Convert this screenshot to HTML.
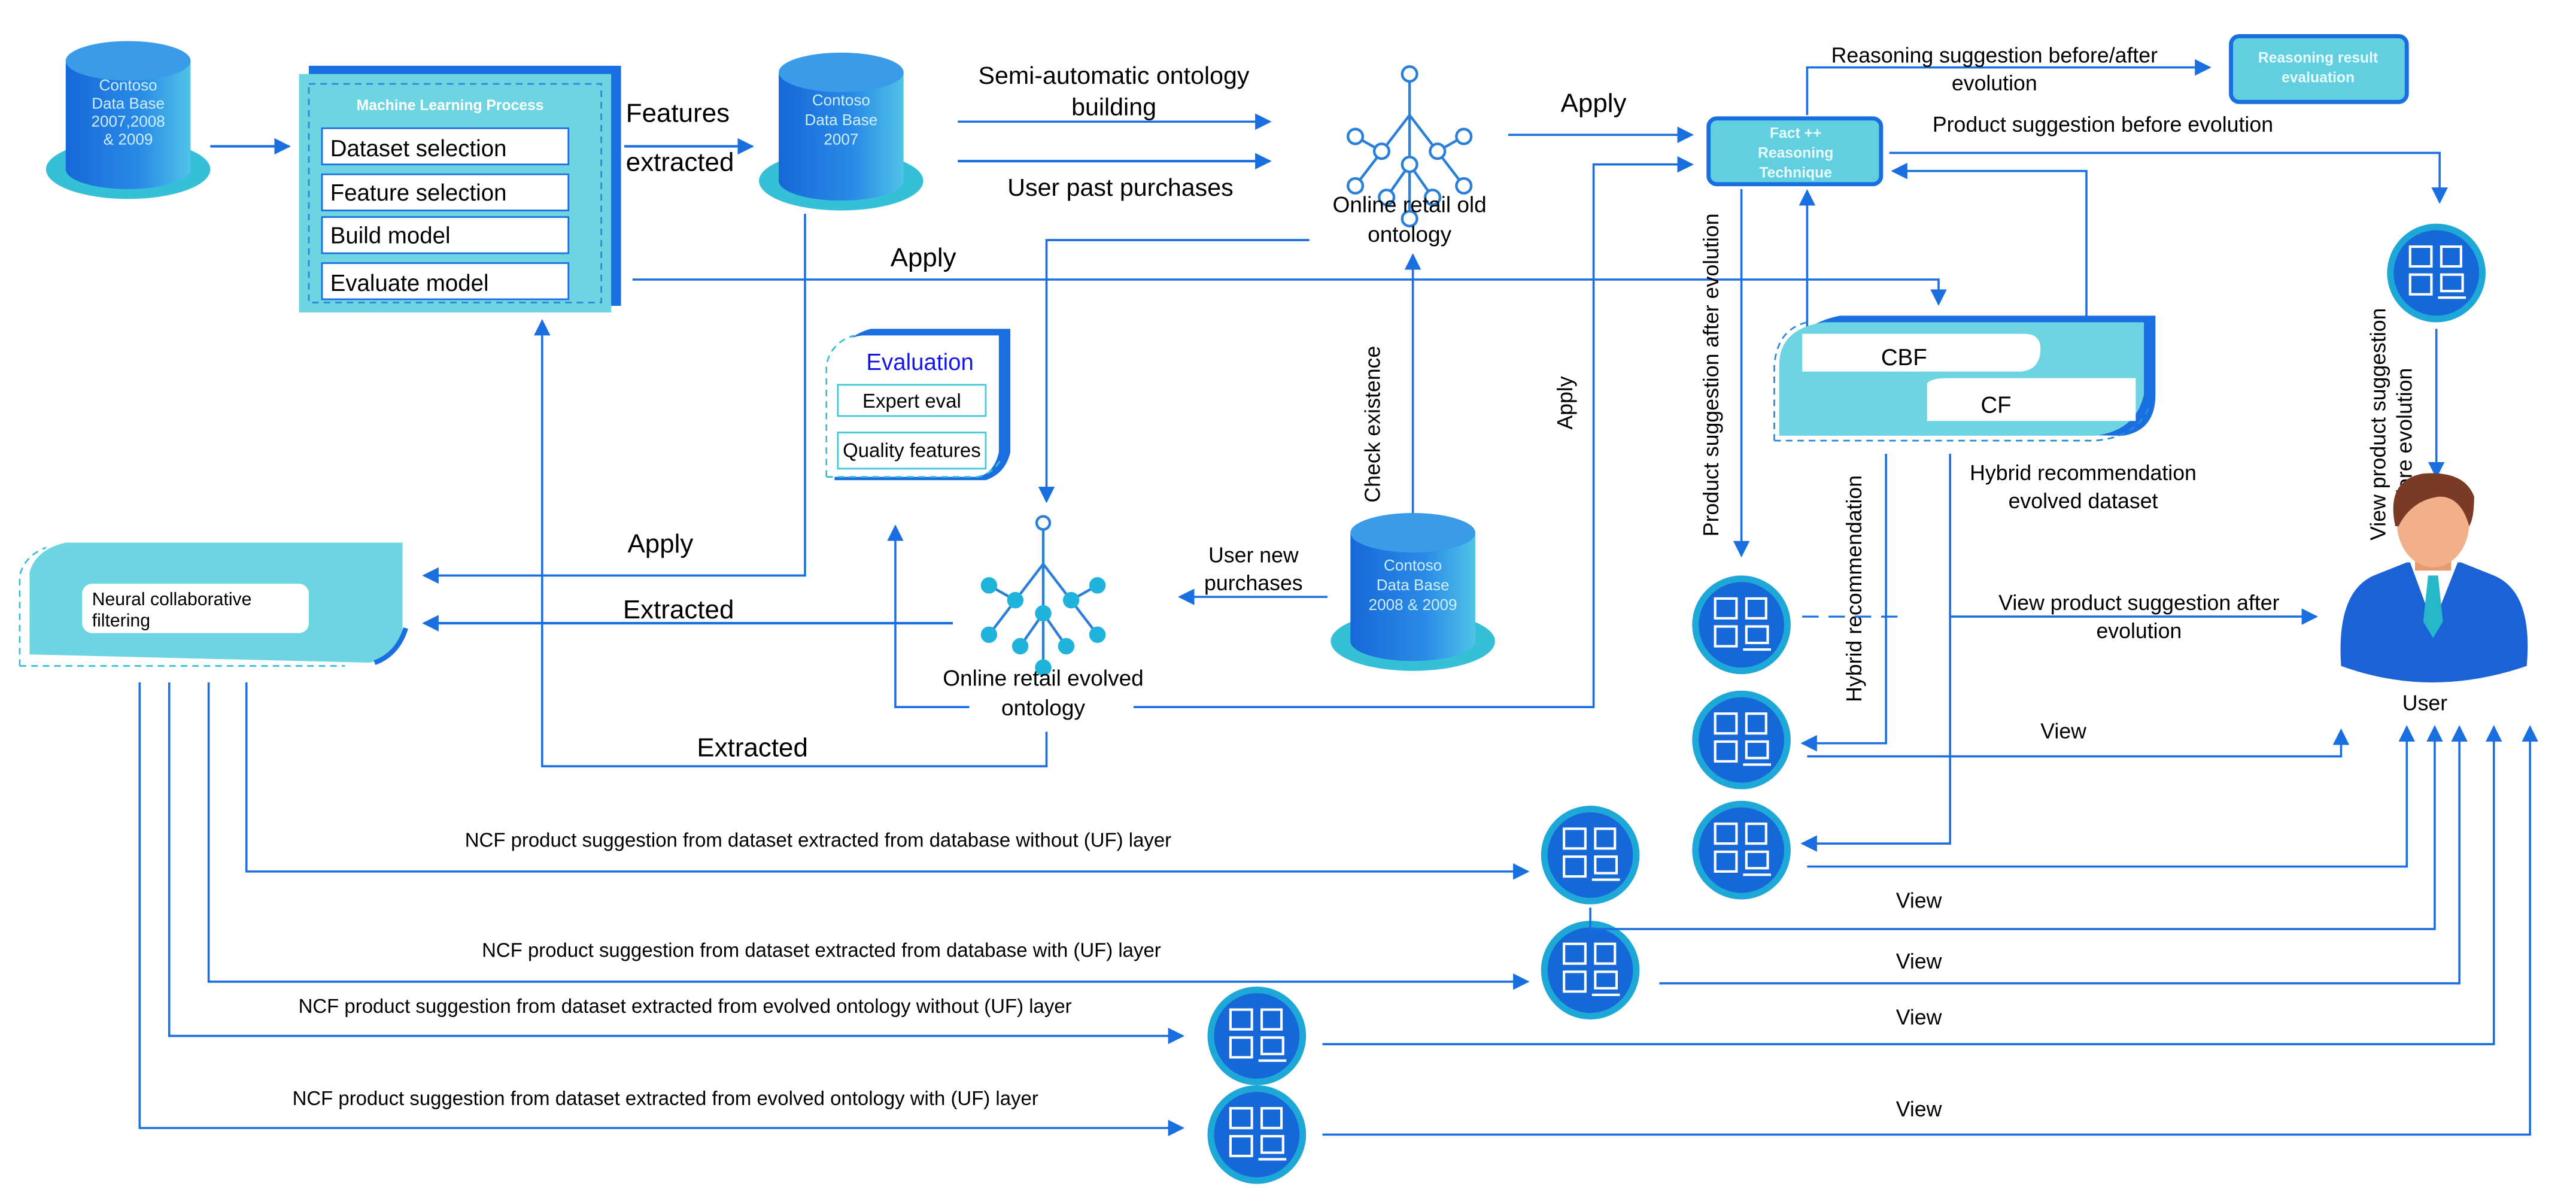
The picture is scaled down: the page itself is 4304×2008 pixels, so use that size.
<!DOCTYPE html>
<html><head><meta charset="utf-8"><style>
html,body{margin:0;padding:0;background:#fff}
svg{display:block}
text{font-family:"Liberation Sans Narrow","Liberation Sans",Arial,sans-serif;fill:#000}
.n{font-family:"Liberation Sans",Arial,sans-serif}
</style></head><body>
<svg width="4304" height="2008" viewBox="0 0 1568 731" preserveAspectRatio="none" xmlns="http://www.w3.org/2000/svg">
<defs>
<marker id="a" viewBox="0 0 10 10" refX="9" refY="5" markerWidth="10" markerHeight="10" markerUnits="userSpaceOnUse" orient="auto"><path d="M0,0L10,5L0,10z" fill="#1a6fe0"/></marker>
<linearGradient id="cyl" x1="0" x2="1"><stop offset="0" stop-color="#1668d8"/><stop offset="0.6" stop-color="#2a8be6"/><stop offset="1" stop-color="#4fc3e8"/></linearGradient>
<g id="ont-old" fill="#fff" stroke="#2a7fd8" stroke-width="1.6">
<path d="M0,0V88M0,25L-33,68M0,25L33,68M-17,47L-33,38M17,47L33,38M0,55L-14,75M0,55L14,75" fill="none"/>
<circle cx="0" cy="0" r="4.5"/><circle cx="-17" cy="47" r="4.5"/><circle cx="17" cy="47" r="4.5"/><circle cx="-33" cy="38" r="4.5"/><circle cx="33" cy="38" r="4.5"/><circle cx="-33" cy="68" r="4.5"/><circle cx="33" cy="68" r="4.5"/><circle cx="0" cy="55" r="4.5"/><circle cx="-14" cy="75" r="4.5"/><circle cx="14" cy="75" r="4.5"/><circle cx="0" cy="88" r="4.5"/>
</g>
<g id="ont-new" fill="#20b4dc" stroke="#2a7fd8" stroke-width="1.6">
<path d="M0,0V88M0,25L-33,68M0,25L33,68M-17,47L-33,38M17,47L33,38M0,55L-14,75M0,55L14,75" fill="none"/>
<circle cx="0" cy="0" r="4" fill="#fff"/><circle cx="-17" cy="47" r="5" stroke="none"/><circle cx="17" cy="47" r="5" stroke="none"/><circle cx="-33" cy="38" r="5" stroke="none"/><circle cx="33" cy="38" r="5" stroke="none"/><circle cx="-33" cy="68" r="5" stroke="none"/><circle cx="33" cy="68" r="5" stroke="none"/><circle cx="0" cy="55" r="5" stroke="none"/><circle cx="-14" cy="75" r="5" stroke="none"/><circle cx="14" cy="75" r="5" stroke="none"/><circle cx="0" cy="88" r="5" stroke="none"/>
</g>
<g id="dev">
<circle r="30" fill="#1ea8d8"/><circle r="26" fill="#1668d8"/>
<g fill="none" stroke="#fff" stroke-width="1.5">
<rect x="-16" y="-16" width="13" height="12"/><rect x="3" y="-16" width="12" height="12"/><rect x="-16" y="1" width="13" height="12"/><rect x="3" y="1" width="13" height="10"/><path d="M1,15H18"/>
</g>
</g>
<g id="cyl3">
<ellipse cx="0" cy="38" rx="50" ry="18" fill="#36c0d8"/>
<path d="M-38,-28V38A38,12 0 0 0 38,38V-28z" fill="url(#cyl)"/>
<ellipse cx="0" cy="-28" rx="38" ry="12" fill="#3a9be8"/>
</g>
</defs>

<!-- DB1 -->
<use href="#cyl3" x="78" y="65"/>
<text x="78" y="55" font-size="9.5" text-anchor="middle" style="fill:#cfeefa">Contoso</text>
<text x="78" y="66" font-size="9.5" text-anchor="middle" style="fill:#cfeefa">Data Base</text>
<text x="78" y="77" font-size="9.5" text-anchor="middle" style="fill:#cfeefa">2007,2008</text>
<text x="78" y="88" font-size="9.5" text-anchor="middle" style="fill:#cfeefa">&amp; 2009</text>
<line x1="128" y1="89" x2="176" y2="89" stroke="#1a6fe0" stroke-width="1.5" marker-end="url(#a)"/>

<!-- ML box -->
<rect x="188" y="40" width="190" height="146" fill="#1a6fe0"/>
<rect x="182" y="45" width="190" height="145" fill="#6dd4e2"/>
<rect x="188" y="51" width="178" height="133" fill="none" stroke="#2a8ad8" stroke-dasharray="4,3"/>
<text x="274" y="67" font-size="9" text-anchor="middle" font-weight="bold" style="fill:#fff">Machine Learning Process</text>
<g stroke="#1a6fe0" stroke-width="1" fill="#fff">
<rect x="196" y="78" width="150" height="22"/><rect x="196" y="106" width="150" height="22"/><rect x="196" y="132" width="150" height="22"/><rect x="196" y="160" width="150" height="22"/></g>
<g font-size="14"><text x="201" y="95">Dataset selection</text><text x="201" y="122">Feature selection</text><text x="201" y="148">Build model</text><text x="201" y="177">Evaluate model</text></g>

<text x="381" y="74" font-size="16">Features</text>
<text x="381" y="104" font-size="16">extracted</text>
<line x1="380" y1="89" x2="458" y2="89" stroke="#1a6fe0" stroke-width="1.5" marker-end="url(#a)"/>

<!-- DB2 -->
<use href="#cyl3" x="512" y="72"/>
<text x="512" y="64" font-size="9.5" text-anchor="middle" style="fill:#cfeefa">Contoso</text>
<text x="512" y="76" font-size="9.5" text-anchor="middle" style="fill:#cfeefa">Data Base</text>
<text x="512" y="88" font-size="9.5" text-anchor="middle" style="fill:#cfeefa">2007</text>

<text x="678" y="51" font-size="15" text-anchor="middle">Semi-automatic ontology</text>
<text x="678" y="70" font-size="15" text-anchor="middle">building</text>
<line x1="583" y1="74" x2="773" y2="74" stroke="#1a6fe0" stroke-width="1.3" marker-end="url(#a)"/>
<line x1="583" y1="98" x2="773" y2="98" stroke="#1a6fe0" stroke-width="1.5" marker-end="url(#a)"/>
<text x="682" y="119" font-size="15" text-anchor="middle">User past purchases</text>

<use href="#ont-old" x="858" y="45"/>
<text x="858" y="129" font-size="13.5" text-anchor="middle">Online retail old</text>
<text x="858" y="147" font-size="13.5" text-anchor="middle">ontology</text>

<text x="970" y="68" font-size="16" text-anchor="middle">Apply</text>
<line x1="918" y1="82" x2="1030" y2="82" stroke="#1a6fe0" stroke-width="1.3" marker-end="url(#a)"/>

<!-- Fact++ -->
<rect x="1040" y="72" width="105" height="40" rx="5" fill="#62cfe0" stroke="#1a6fe0" stroke-width="2.5"/>
<g font-size="9" font-weight="bold" text-anchor="middle" class="n"><text x="1093" y="84" style="fill:#e8fbff">Fact ++</text><text x="1093" y="96" style="fill:#e8fbff">Reasoning</text><text x="1093" y="108" style="fill:#e8fbff">Technique</text></g>

<polyline points="1100,70 1100,41 1345,41" fill="none" stroke="#1a6fe0" stroke-width="1.3" marker-end="url(#a)"/>
<text x="1214" y="38" font-size="13" text-anchor="middle">Reasoning suggestion before/after</text>
<text x="1214" y="55" font-size="13" text-anchor="middle">evolution</text>
<rect x="1358" y="22" width="107" height="40" rx="5" fill="#62cfe0" stroke="#1a6fe0" stroke-width="2.5"/>
<text x="1411" y="38" font-size="9" font-weight="bold" text-anchor="middle" class="n" style="fill:#e8fbff">Reasoning result</text>
<text x="1411" y="50" font-size="9" font-weight="bold" text-anchor="middle" class="n" style="fill:#e8fbff">evaluation</text>

<text x="1280" y="80" font-size="13" text-anchor="middle">Product suggestion before evolution</text>
<polyline points="1150,93 1485,93 1485,123" fill="none" stroke="#1a6fe0" stroke-width="1.3" marker-end="url(#a)"/>
<polyline points="1270,202 1270,104 1152,104" fill="none" stroke="#1a6fe0" stroke-width="1.3" marker-end="url(#a)"/>
<polyline points="1110,222 1100,222 1100,116" fill="none" stroke="#1a6fe0" stroke-width="1.3" marker-end="url(#a)"/>

<use href="#dev" x="1483" y="166"/>
<line x1="1483" y1="200" x2="1483" y2="290" stroke="#1a6fe0" stroke-width="1.3" marker-end="url(#a)"/>
<text transform="translate(1452,258) rotate(-90)" font-size="13" text-anchor="middle" class="n">View product suggestion</text>
<text transform="translate(1468,270) rotate(-90)" font-size="13" text-anchor="middle" class="n">before evolution</text>

<!-- User -->
<path d="M1425,405 Q1422,360 1445,350 L1465,342 L1498,342 L1518,350 Q1542,360 1538,405 Q1480,425 1425,405z" fill="#1a62d6"/>
<path d="M1467,342 L1481,380 L1496,342z" fill="#fff"/>
<path d="M1478,350 L1484,350 L1487,378 L1481,388 L1475,378z" fill="#26b8c8"/>
<rect x="1470" y="325" width="22" height="22" fill="#e59a70"/>
<ellipse cx="1481" cy="318" rx="22" ry="27" fill="#f1b08a"/>
<path d="M1458,320 Q1452,292 1475,288 Q1500,286 1506,302 Q1506,315 1503,320 Q1498,302 1485,302 Q1468,304 1460,320z" fill="#7a3a26"/>
<text x="1476" y="432" font-size="13" text-anchor="middle">User</text>

<!-- Apply long -->
<polyline points="385,170 1180,170 1180,185" fill="none" stroke="#1a6fe0" stroke-width="1.3" marker-end="url(#a)"/>
<text x="562" y="162" font-size="16" text-anchor="middle">Apply</text>

<!-- Hybrid box -->
<path d="M1090,262 V222 Q1090,198 1120,192 H1312 V240 Q1312,262 1292,265z" fill="#1a6fe0"/>
<path d="M1083,265 V222 Q1083,200 1110,196 H1305 V240 Q1300,262 1275,265z" fill="#6dd4e2"/>
<path d="M1080,268 V222 Q1082,200 1100,196 M1080,268 H1275 Q1300,266 1308,248" fill="none" stroke="#2a8ad8" stroke-dasharray="4,3"/>
<path d="M1097,203 H1232 Q1242,203 1242,212 Q1242,226 1228,226 H1097z" fill="#fff"/>
<path d="M1173,233 Q1176,230 1185,230 H1300 V256 H1173z" fill="#fff"/>
<text x="1159" y="222" font-size="14" text-anchor="middle">CBF</text>
<text x="1215" y="251" font-size="14" text-anchor="middle">CF</text>

<!-- product suggestion after evolution -->
<line x1="1060" y1="115" x2="1060" y2="338" stroke="#1a6fe0" stroke-width="1.3" marker-end="url(#a)"/>
<text transform="translate(1046,228) rotate(-90)" font-size="13" text-anchor="middle" class="n">Product suggestion after evolution</text>

<use href="#dev" x="1060" y="380"/>
<use href="#dev" x="1060" y="450"/>
<use href="#dev" x="1060" y="517"/>
<use href="#dev" x="968" y="520"/>
<use href="#dev" x="968" y="590"/>
<use href="#dev" x="765" y="630"/>
<use href="#dev" x="765" y="690"/>

<polyline points="1148,276 1148,452 1097,452" fill="none" stroke="#1a6fe0" stroke-width="1.3" marker-end="url(#a)"/>
<text transform="translate(1133,358) rotate(-90)" font-size="13" text-anchor="middle" class="n">Hybrid recommendation</text>
<polyline points="1187,276 1187,513 1097,513" fill="none" stroke="#1a6fe0" stroke-width="1.3" marker-end="url(#a)"/>
<text x="1268" y="292" font-size="13" text-anchor="middle">Hybrid recommendation</text>
<text x="1268" y="309" font-size="13" text-anchor="middle">evolved dataset</text>
<line x1="1187" y1="375" x2="1410" y2="375" stroke="#1a6fe0" stroke-width="1.3" marker-end="url(#a)"/>
<line x1="1097" y1="375" x2="1160" y2="375" stroke="#1a6fe0" stroke-width="1.2" stroke-dasharray="10,6"/>
<text x="1302" y="371" font-size="13" text-anchor="middle">View product suggestion after</text>
<text x="1302" y="388" font-size="13" text-anchor="middle">evolution</text>

<polyline points="1100,460 1425,460 1425,444" fill="none" stroke="#1a6fe0" stroke-width="1.3" marker-end="url(#a)"/>
<text x="1256" y="449" font-size="13" text-anchor="middle">View</text>
<polyline points="1100,527 1465,527 1465,442" fill="none" stroke="#1a6fe0" stroke-width="1.3" marker-end="url(#a)"/>
<polyline points="968,552 968,565 1482,565 1482,442" fill="none" stroke="#1a6fe0" stroke-width="1.3" marker-end="url(#a)"/>
<text x="1168" y="552" font-size="13" text-anchor="middle">View</text>
<polyline points="1010,598 1497,598 1497,442" fill="none" stroke="#1a6fe0" stroke-width="1.3" marker-end="url(#a)"/>
<text x="1168" y="589" font-size="13" text-anchor="middle">View</text>
<polyline points="805,635 1518,635 1518,442" fill="none" stroke="#1a6fe0" stroke-width="1.3" marker-end="url(#a)"/>
<text x="1168" y="623" font-size="13" text-anchor="middle">View</text>
<polyline points="805,690 1540,690 1540,442" fill="none" stroke="#1a6fe0" stroke-width="1.3" marker-end="url(#a)"/>
<text x="1168" y="679" font-size="13" text-anchor="middle">View</text>

<!-- Evaluation box -->
<path d="M508,292 V218 Q515,204 530,200 H615 V275 Q612,288 600,292z" fill="#1a6fe0"/>
<path d="M503,290 V222 Q508,206 525,204 H608 V275 Q605,288 595,290z" fill="#fff"/>
<path d="M503,290 H595 Q605,288 610,278 M503,290 V222 Q506,208 520,204" fill="none" stroke="#35c0d8" stroke-dasharray="4,3"/>
<text x="560" y="225" font-size="14" text-anchor="middle" style="fill:#1515e8">Evaluation</text>
<rect x="510" y="234" width="90" height="19" fill="#fff" stroke="#40c8d8"/>
<rect x="510" y="263" width="90" height="22" fill="#fff" stroke="#40c8d8"/>
<text x="555" y="248" font-size="12" text-anchor="middle">Expert eval</text>
<text x="555" y="278" font-size="12" text-anchor="middle">Quality features</text>

<!-- evolved ontology -->
<use href="#ont-new" x="635" y="318"/>
<text x="635" y="417" font-size="13.5" text-anchor="middle">Online retail evolved</text>
<text x="635" y="435" font-size="13.5" text-anchor="middle">ontology</text>
<polyline points="797,146 637,146 637,305" fill="none" stroke="#1a6fe0" stroke-width="1.3" marker-end="url(#a)"/>

<line x1="860" y1="320" x2="860" y2="155" stroke="#1a6fe0" stroke-width="1.3" marker-end="url(#a)"/>
<text transform="translate(840,258) rotate(-90)" font-size="13" text-anchor="middle" class="n">Check existence</text>

<use href="#cyl3" x="860" y="352"/>
<text x="860" y="347" font-size="9.5" text-anchor="middle" style="fill:#cfeefa">Contoso</text>
<text x="860" y="359" font-size="9.5" text-anchor="middle" style="fill:#cfeefa">Data Base</text>
<text x="860" y="371" font-size="9.5" text-anchor="middle" style="fill:#cfeefa">2008 &amp; 2009</text>

<text x="763" y="342" font-size="13" text-anchor="middle">User new</text>
<text x="763" y="359" font-size="13" text-anchor="middle">purchases</text>
<line x1="808" y1="363" x2="718" y2="363" stroke="#1a6fe0" stroke-width="1.3" marker-end="url(#a)"/>

<polyline points="690,430 970,430 970,100 1030,100" fill="none" stroke="#1a6fe0" stroke-width="1.3" marker-end="url(#a)"/>
<text transform="translate(957,245) rotate(-90)" font-size="13" text-anchor="middle" class="n">Apply</text>

<polyline points="590,430 545,430 545,320" fill="none" stroke="#1a6fe0" stroke-width="1.3" marker-end="url(#a)"/>

<!-- NCF box -->
<path d="M18,398 V348 Q22,334 40,330 H245 V385 Q240,400 225,403z" fill="#6dd4e2"/>
<path d="M228,403 Q242,398 247,382" fill="none" stroke="#1a6fe0" stroke-width="3"/>
<path d="M12,405 V350 Q15,338 28,333 M12,405 H210" fill="none" stroke="#35c0d8" stroke-dasharray="4,3"/>
<rect x="50" y="355" width="138" height="30" rx="6" fill="#fff"/>
<text x="56" y="368" font-size="11">Neural collaborative</text>
<text x="56" y="381" font-size="11">filtering</text>

<polyline points="490,130 490,350 258,350" fill="none" stroke="#1a6fe0" stroke-width="1.3" marker-end="url(#a)"/>
<text x="402" y="336" font-size="16" text-anchor="middle">Apply</text>
<line x1="580" y1="379" x2="258" y2="379" stroke="#1a6fe0" stroke-width="1.5" marker-end="url(#a)"/>
<text x="413" y="376" font-size="16" text-anchor="middle">Extracted</text>
<polyline points="637,445 637,466 330,466 330,195" fill="none" stroke="#1a6fe0" stroke-width="1.3" marker-end="url(#a)"/>
<text x="458" y="460" font-size="16" text-anchor="middle">Extracted</text>

<g class="n" font-size="12" text-anchor="middle">
<polyline points="150,415 150,530 930,530" fill="none" stroke="#1a6fe0" stroke-width="1.3" marker-end="url(#a)"/>
<text x="498" y="515" class="n">NCF product suggestion from dataset extracted from database without (UF) layer</text>
<polyline points="127,415 127,597 930,597" fill="none" stroke="#1a6fe0" stroke-width="1.3" marker-end="url(#a)"/>
<text x="500" y="582" class="n">NCF product suggestion from dataset extracted from database with (UF) layer</text>
<polyline points="103,415 103,630 720,630" fill="none" stroke="#1a6fe0" stroke-width="1.3" marker-end="url(#a)"/>
<text x="417" y="616" class="n">NCF product suggestion from dataset extracted from evolved  ontology without (UF) layer</text>
<polyline points="85,415 85,686 720,686" fill="none" stroke="#1a6fe0" stroke-width="1.3" marker-end="url(#a)"/>
<text x="405" y="672" class="n">NCF product suggestion from dataset extracted from evolved ontology with (UF) layer</text>
</g>
</svg>
</body></html>
